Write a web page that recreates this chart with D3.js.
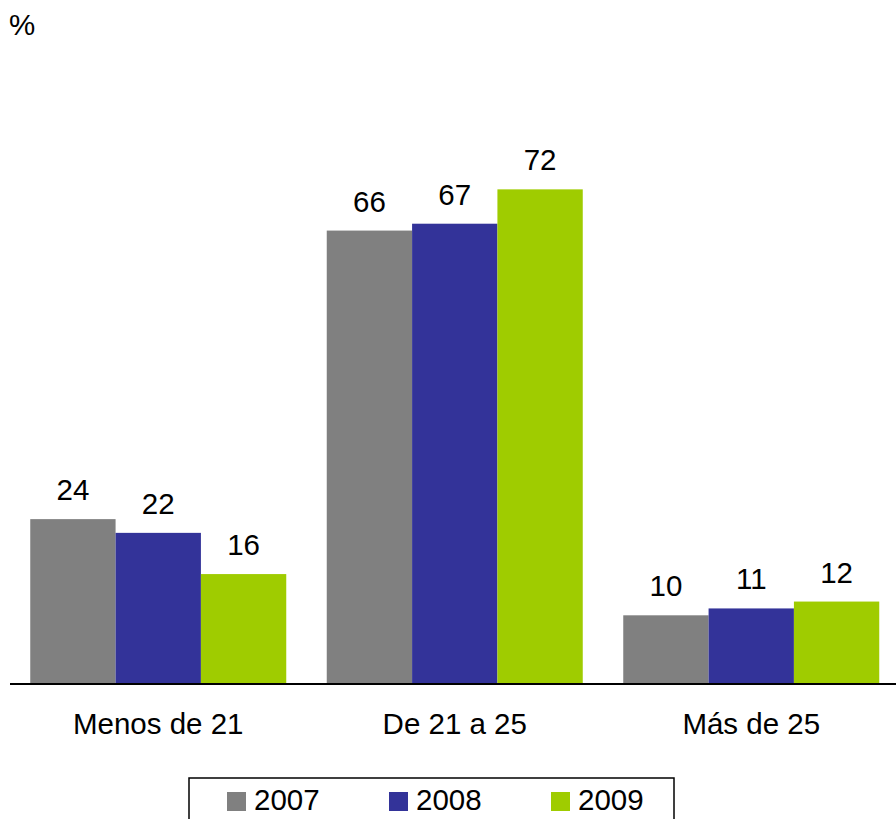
<!DOCTYPE html>
<html><head><meta charset="utf-8">
<script src="https://cdn.jsdelivr.net/npm/d3@7"></script>
<style>html,body{margin:0;padding:0;background:#fff;}svg{display:block;font-family:"Liberation Sans",Arial,sans-serif;}</style>
</head><body>
<script>
const categories = ["Menos de 21", "De 21 a 25", "Más de 25"];
const seriesNames = ["2007", "2008", "2009"];
const values2007 = [24, 66, 10];
const values2008 = [22, 67, 11];
const values2009 = [16, 72, 12];
const colors = ["#808080", "#333399", "#9fcc00"];
const unitLabel = "%";

const W = 896, H = 819;
const FS = 29.5;
const svg = d3.select("body").append("svg").attr("width", W).attr("height", H);

const seriesValues = [values2007, values2008, values2009];
const data = categories.map((c, i) => ({cat: c, vals: seriesNames.map((s, j) => ({s, v: seriesValues[j][i], color: colors[j]}))}));

const baseY = 684;
const y = d3.scaleLinear().domain([0, 80]).range([baseY, baseY - 6.87 * 80]);
const x0 = d3.scaleBand().domain(categories).range([10, 899.5]).paddingInner(0.1366).paddingOuter(0.0683);
const x1 = d3.scaleBand().domain(seriesNames).range([0, x0.bandwidth()]);

const g = svg.append("g");
const groups = g.selectAll("g.grp").data(data).join("g").attr("class", "grp")
  .attr("transform", d => `translate(${x0(d.cat)},0)`);

groups.selectAll("rect").data(d => d.vals).join("rect")
  .attr("x", d => x1(d.s)).attr("width", x1.bandwidth())
  .attr("y", d => y(d.v)).attr("height", d => baseY - y(d.v))
  .attr("fill", d => d.color);

groups.selectAll("text.val").data(d => d.vals).join("text").attr("class", "val")
  .attr("x", d => x1(d.s) + x1.bandwidth() / 2)
  .attr("y", d => y(d.v) - 19)
  .attr("text-anchor", "middle").attr("font-size", FS).attr("fill", "#000")
  .text(d => d.v);

// baseline axis
const xAxis = d3.axisBottom(x0).tickSize(0).tickPadding(29);
const ax = svg.append("g").attr("transform", `translate(0,${baseY})`).call(xAxis);
ax.select(".domain").attr("d", `M10,0H896`).attr("stroke", "#000").attr("stroke-width", 2);
ax.selectAll(".tick text").attr("font-size", FS).attr("fill", "#000")
  .attr("font-family", "'Liberation Sans',Arial,sans-serif").attr("dy", "0.71em");

// unit label
svg.append("text").attr("x", 9).attr("y", 35).attr("font-size", FS).text(unitLabel);

// legend
const leg = svg.append("g");
leg.append("rect").attr("x", 189).attr("y", 778).attr("width", 485).attr("height", 60)
  .attr("fill", "none").attr("stroke", "#000").attr("stroke-width", 1.5);
const items = leg.selectAll("g.item").data(seriesNames).join("g").attr("class", "item")
  .attr("transform", (d, i) => `translate(${227 + i * 162},0)`);
items.append("rect").attr("x", 0).attr("y", 792).attr("width", 19).attr("height", 19)
  .attr("fill", (d, i) => colors[i]);
items.append("text").attr("x", 27).attr("y", 810).attr("font-size", FS).text(d => d);
</script>
</body></html>
